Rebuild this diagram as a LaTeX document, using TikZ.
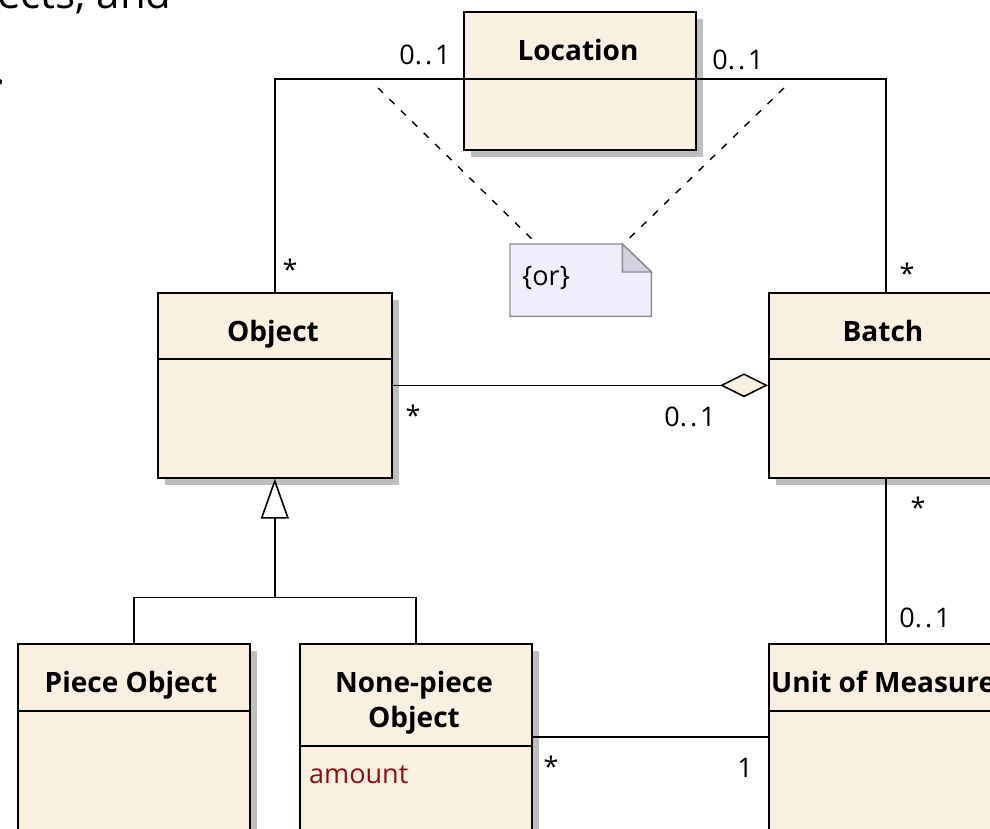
\documentclass[tikz,border=0pt]{standalone}
\usepackage{fontspec}
\setmainfont{Open Sans}
\usetikzlibrary{arrows.meta,shadows,calc}
\definecolor{clsfill}{HTML}{FAF0E2}
\definecolor{shade}{HTML}{BEBEBE}
\definecolor{notefill}{HTML}{F0EEFC}
\definecolor{noteedge}{HTML}{8C8C8C}
\definecolor{notefold}{HTML}{D3D1E0}
\definecolor{attr}{HTML}{8B1010}
% multiplicity range with the dots spaced apart
\newcommand{\zeroone}{0.\kern3pt.\kern3pt1}

\begin{document}
\begin{tikzpicture}[x=1pt,y=-1pt,
  cls/.style={draw=black, line width=1.6pt, fill=clsfill, rectangle, inner sep=0pt,
    anchor=north west,
    drop shadow={shadow xshift=7pt, shadow yshift=-7pt, fill=shade, opacity=1}},
  cname/.style={font=\bfseries\fontsize{28}{32}\selectfont, inner sep=0pt, anchor=base},
  mult/.style={font=\fontsize{27}{30}\selectfont, inner sep=0pt, anchor=base},
  sep/.style={line width=1.6pt},
  link/.style={line width=1.6pt},
  hint/.style={line width=1.4pt, dash pattern=on 7pt off 9pt},
]
\useasboundingbox (0,0) rectangle (990,828);
\clip (0,0) rectangle (990,828);

% running text around the figure
\node[font=\fontsize{42}{48}\selectfont, inner sep=0pt, anchor=base west] (frag) at (-3,8) {ects, and};
\node[font=\fontsize{42}{48}\selectfont, inner sep=0pt, anchor=base west] (dot) at (-6,84) {.};

% classes
\node[cls, minimum width=232pt, minimum height=138pt] (loc)   at (463,11)  {};
\node[cls, minimum width=234pt, minimum height=185pt] (obj)   at (157,292) {};
\node[cls, minimum width=234pt, minimum height=185pt] (batch) at (768,292) {};
\node[cls, minimum width=232pt, minimum height=200pt] (piece) at (17,643)  {};
\node[cls, minimum width=232pt, minimum height=200pt] (nonp)  at (299,643) {};
\node[cls, minimum width=234pt, minimum height=200pt] (unit)  at (768,643) {};

% compartment separators
\draw[sep] ($(loc.north west)+(0,68)$)   -- ($(loc.north east)+(0,68)$);
\draw[sep] ($(obj.north west)+(0,67)$)   -- ($(obj.north east)+(0,67)$);
\draw[sep] ($(batch.north west)+(0,67)$) -- ($(batch.north east)+(0,67)$);
\draw[sep] ($(piece.north west)+(0,68)$) -- ($(piece.north east)+(0,68)$);
\draw[sep] ($(nonp.north west)+(0,103)$) -- ($(nonp.north east)+(0,103)$);
\draw[sep] ($(unit.north west)+(0,68)$)  -- ($(unit.north east)+(0,68)$);

% class names and attributes
\node[cname] (locname)   at (578,60)  {Location};
\node[cname] (objname)   at (273,341) {Object};
\node[cname] (batchname) at (883,341) {Batch};
\node[cname] (piecename) at (131,692) {Piece Object};
\node[cname] (nonpname1) at (414,692) {None-piece};
\node[cname] (nonpname2) at (414,727) {Object};
\node[cname, anchor=base west] (unitname) at (771,692) {Unit of Measure};
\node[mult, anchor=base west, text=attr] (amount) at (309,783) {amount};

% constraint note
\node[draw=none, inner sep=0pt, minimum width=141pt, minimum height=72pt, anchor=north west] (note) at (510,244) {};
\draw[fill=notefill, draw=noteedge, line width=1.4pt]
  (note.north west) -- ($(note.north east)+(-29,0)$) -- ($(note.north east)+(0,28)$)
  -- (note.south east) -- (note.south west) -- cycle;
\draw[fill=notefold, draw=noteedge, line width=1.4pt]
  ($(note.north east)+(-29,0)$) -- ($(note.north east)+(-29,28)$) -- ($(note.north east)+(0,28)$) -- cycle;
\node[mult, anchor=base west] (ortext) at (522,285) {\{or\}};

% associations
\draw[link] ($(loc.north west)+(0,68)$) -| (obj.north);
\draw[link] ($(loc.north east)+(0,68)$) -| (batch.north);
\draw[link, -{Diamond[length=48pt,width=24pt,fill=clsfill]}] (obj.east) -- (batch.west);
\draw[link] (batch.south) -- (unit.north);
\coordinate (npport) at ($(nonp.north east)+(0,94)$);
\draw[link] (npport) -- (npport -| unit.west);

% generalization
\coordinate (genbar) at ($(obj.south)+(0,119)$);
\draw[link, -{Triangle[length=40pt,width=28pt,fill=white]}] (genbar) -- (obj.south);
\draw[link] (piece.north) |- (genbar) -| (nonp.north);

% links from the constraint note
\coordinate (dl) at (378,88);
\coordinate (dr) at (784,88);
\draw[hint] (dl) -- ($(note.north west)+(27,0)$);
\draw[hint] (dr) -- ($(note.north east)+(-28,0)$);

% multiplicities
\node[mult] (m1)  at (425,64)  {\zeroone};
\node[mult] (m2)  at (738,69)  {\zeroone};
\node[mult] (m3)  at (290,279) {*};
\node[mult] (m4)  at (907,283) {*};
\node[mult] (m5)  at (413,425) {*};
\node[mult] (m6)  at (690,426) {\zeroone};
\node[mult] (m7)  at (918,517) {*};
\node[mult] (m8)  at (925,627) {\zeroone};
\node[mult] (m9)  at (551,776) {*};
\node[mult] (m10) at (745,777) {1};
\end{tikzpicture}
\end{document}
